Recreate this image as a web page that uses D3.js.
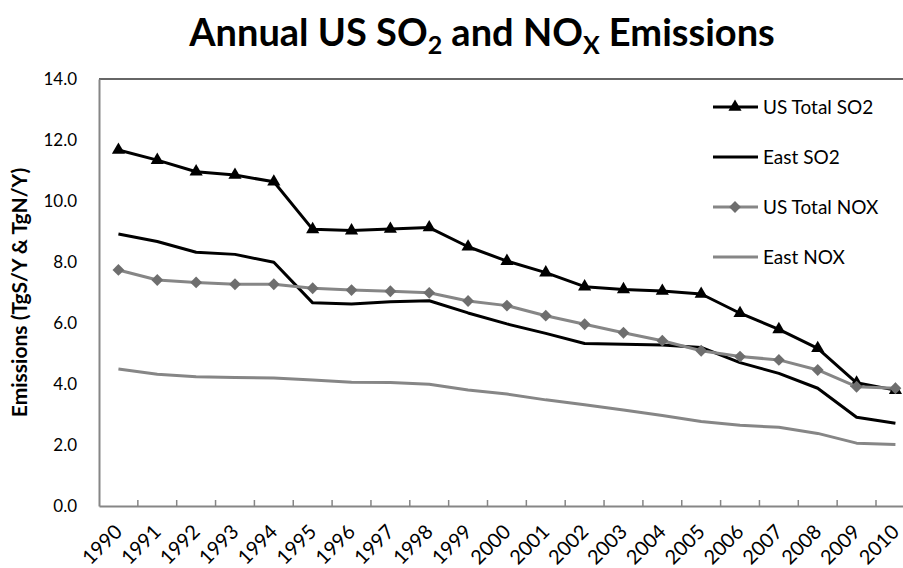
<!DOCTYPE html>
<html>
<head>
<meta charset="utf-8">
<script src="https://cdn.jsdelivr.net/npm/d3@7"></script>
<style>
  body { margin: 0; background: #fff; }
  svg text { font-family: Lato, "Open Sans", sans-serif; }
</style>
</head>
<body>
<div id="chart"></div>
<script>
// data
const years = d3.range(1990, 2011).map(String);
const usTotalSO2 = [11.67, 11.34, 10.96, 10.85, 10.63, 9.07, 9.03, 9.08, 9.13, 8.50, 8.03, 7.65, 7.19, 7.10, 7.05, 6.95, 6.32, 5.79, 5.17, 4.04, 3.80];
const eastSO2 = [8.92, 8.67, 8.32, 8.25, 7.99, 6.66, 6.62, 6.70, 6.73, 6.33, 5.97, 5.66, 5.33, 5.30, 5.28, 5.20, 4.70, 4.35, 3.86, 2.91, 2.71];
const usTotalNOX = [7.74, 7.41, 7.33, 7.27, 7.27, 7.14, 7.08, 7.04, 6.99, 6.72, 6.57, 6.24, 5.96, 5.68, 5.42, 5.09, 4.90, 4.79, 4.46, 3.91, 3.86];
const eastNOX = [4.49, 4.32, 4.24, 4.21, 4.20, 4.13, 4.06, 4.05, 3.99, 3.80, 3.67, 3.48, 3.32, 3.15, 2.97, 2.77, 2.65, 2.58, 2.38, 2.06, 2.02];
const yTicks = [0, 2, 4, 6, 8, 10, 12, 14];

const series = [
  { name: "US Total SO2", values: usTotalSO2, stroke: "#000", marker: "triangle", fill: "#000" },
  { name: "East SO2", values: eastSO2, stroke: "#000", marker: null },
  { name: "US Total NOX", values: usTotalNOX, stroke: "#868686", marker: "diamond", fill: "#6e6e6e" },
  { name: "East NOX", values: eastNOX, stroke: "#868686", marker: null }
];

const width = 903, height = 568;
const plot = { left: 99, top: 79, bottom: 506 };
const band = 38.85;

const svg = d3.select("#chart")
  .append("svg")
  .attr("width", width)
  .attr("height", height);

// scales
const x = d3.scaleBand()
  .domain(years)
  .range([plot.left, plot.left + band * years.length]);

const y = d3.scaleLinear()
  .domain([0, 14])
  .range([plot.bottom, plot.top]);

// title
const title = svg.append("text")
  .attr("x", 482)
  .attr("y", 46)
  .attr("text-anchor", "middle")
  .attr("font-size", 38)
  .attr("font-weight", "bold")
  .attr("fill", "#000");
title.append("tspan").text("Annual US SO");
title.append("tspan").attr("font-size", 25).attr("dy", 8).text("2");
title.append("tspan").attr("dy", -8).text(" and NO");
title.append("tspan").attr("font-size", 25).attr("dy", 8).text("X");
title.append("tspan").attr("dy", -8).text(" Emissions");

// top border of plot area
svg.append("line")
  .attr("x1", plot.left).attr("x2", width)
  .attr("y1", y(14)).attr("y2", y(14))
  .attr("stroke", "#333")
  .attr("stroke-width", 1.5);

// y axis
const yAxis = svg.append("g")
  .attr("transform", `translate(${plot.left},0)`)
  .call(d3.axisLeft(y).tickValues(yTicks).tickSize(0).tickPadding(22).tickFormat(d3.format(".1f")));
yAxis.select(".domain").attr("stroke", "#868686").attr("stroke-width", 2);
yAxis.selectAll("text").attr("font-size", 17).attr("fill", "#000").attr("font-family", "Lato, sans-serif");

// x axis
const xAxis = svg.append("g")
  .attr("transform", `translate(0,${plot.bottom})`)
  .call(d3.axisBottom(x).tickSize(0).tickPadding(0));
xAxis.select(".domain").attr("stroke", "#868686").attr("stroke-width", 2);
xAxis.selectAll(".tick text")
  .attr("font-size", 20)
  .attr("fill", "#000")
  .attr("font-family", "Lato, sans-serif")
  .attr("text-anchor", "end")
  .attr("dy", null)
  .attr("transform", "translate(5,27) rotate(-45)");

// inside tick marks at category boundaries
svg.append("g")
  .selectAll("line")
  .data(years)
  .join("line")
  .attr("x1", d => x(d) + x.bandwidth())
  .attr("x2", d => x(d) + x.bandwidth())
  .attr("y1", plot.bottom)
  .attr("y2", plot.bottom - 6)
  .attr("stroke", "#868686")
  .attr("stroke-width", 1.5);

// y axis label
svg.append("text")
  .attr("transform", `translate(27,${(plot.top + plot.bottom) / 2}) rotate(-90)`)
  .attr("text-anchor", "middle")
  .attr("font-size", 21)
  .attr("font-weight", "bold")
  .text("Emissions (TgS/Y & TgN/Y)");

const cx = i => x(years[i]) + x.bandwidth() / 2;

const line = d3.line()
  .x((d, i) => cx(i))
  .y(d => y(d));

const triangle = d3.symbol().type(d3.symbolTriangle).size(75);
const diamond = d3.symbol().type(d3.symbolSquare).size(70);

// lines and markers
series.forEach(s => {
  svg.append("path")
    .datum(s.values)
    .attr("fill", "none")
    .attr("stroke", s.stroke)
    .attr("stroke-width", 3)
    .attr("stroke-linejoin", "round")
    .attr("d", line);

  if (s.marker) {
    svg.append("g")
      .selectAll("path")
      .data(s.values)
      .join("path")
      .attr("d", s.marker === "triangle" ? triangle : diamond)
      .attr("fill", s.fill)
      .attr("transform", (d, i) => s.marker === "triangle"
        ? `translate(${cx(i)},${y(d)})`
        : `translate(${cx(i)},${y(d)}) rotate(45)`);
  }
});

// legend
const legend = svg.append("g")
  .selectAll("g")
  .data(series)
  .join("g")
  .attr("transform", (d, i) => `translate(713,${107 + i * 50})`);

legend.append("line")
  .attr("x1", 0).attr("x2", 45)
  .attr("stroke", d => d.stroke)
  .attr("stroke-width", 3);

legend.filter(d => d.marker)
  .append("path")
  .attr("d", d => d.marker === "triangle" ? triangle() : diamond())
  .attr("fill", d => d.fill)
  .attr("transform", d => d.marker === "triangle"
    ? "translate(22,0)"
    : "translate(22,0) rotate(45)");

legend.append("text")
  .attr("x", 50)
  .attr("dy", "0.35em")
  .attr("font-size", 19)
  .text(d => d.name);
</script>
</body>
</html>
